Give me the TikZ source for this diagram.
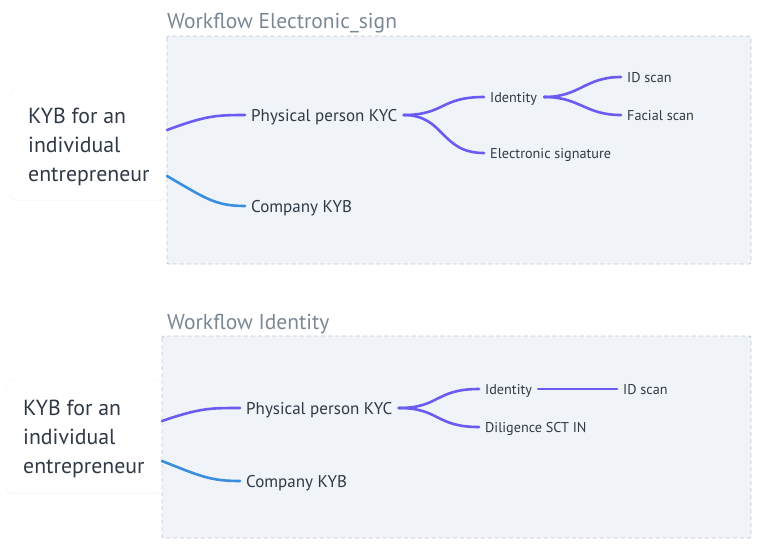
\documentclass[tikz,border=0pt]{standalone}
\usepackage{fontspec}
\setmainfont{PT Sans}
\usetikzlibrary{calc,shadows}
\definecolor{txt}{HTML}{2F3A46}
\definecolor{ttl}{HTML}{7A8896}
\definecolor{panel}{HTML}{F0F3F7}
\definecolor{panelborder}{HTML}{C3CBD4}
\definecolor{purp}{HTML}{6A5CF2}
\definecolor{blu}{HTML}{3A8EE0}
\tikzset{
  panelbox/.style={fill=panel, draw=panelborder, dashed, dash pattern=on 4pt off 3pt, line width=0.9pt, rounded corners=2pt},
  paneltitle/.style={anchor=base west, inner sep=0, text=ttl, font=\fontsize{21.5}{24}\selectfont},
  rootbox/.style={fill=white, draw=black!4, rounded corners=5pt, drop shadow={opacity=0.06, shadow xshift=0pt, shadow yshift=-1pt}},
  roottext/.style={anchor=west, inner sep=0, text=txt, align=left, font=\fontsize{21.8}{29}\selectfont},
  lvlone/.style={anchor=west, inner sep=0, text height=12pt, text depth=0pt, text=txt, font=\fontsize{17}{19}\selectfont},
  lvltwo/.style={anchor=west, inner sep=0, text height=10pt, text depth=0pt, text=txt, font=\fontsize{14.2}{16}\selectfont},
  pline/.style={draw=purp, line width=2.6pt, line cap=round},
  bline/.style={draw=blu, line width=2.6pt, line cap=round},
}
\begin{document}
\begin{tikzpicture}[x=1pt,y=-1pt]
\useasboundingbox (0,0) rectangle (758,544);
% ---------- top panel ----------
\node[paneltitle] (t1) at (167,28) {Workflow Electronic\_sign};
\path[panelbox] (167,36) rectangle (751,264);
\path[rootbox] (11,88) rectangle (166,200);
\node[roottext] (r1) at (28,147) {KYB for an\\individual\\entrepreneur};
\coordinate (r1a) at (167,130);
\coordinate (r1b) at (167,176);
\node[lvlone] (p1) at (251,115) {Physical person KYC};
\node[lvlone] (c1) at (251,206) {Company KYB};
\node[lvltwo] (i1) at (490,97) {Identity};
\node[lvltwo] (e1) at (490,153) {Electronic signature};
\node[lvltwo] (d1) at (627,77) {ID scan};
\node[lvltwo] (f1) at (627,115) {Facial scan};
\draw[pline] (r1a) .. controls (205,116) and (215,115) .. ([xshift=-6pt]p1.west);
\draw[bline] (r1b) .. controls (205,198) and (215,206) .. ([xshift=-6pt]c1.west);
\draw[pline] ([xshift=6pt]p1.east) .. controls (445,115) and (440,97) .. ([xshift=-6pt]i1.west);
\draw[pline] ([xshift=6pt]p1.east) .. controls (445,115) and (440,153) .. ([xshift=-6pt]e1.west);
\draw[pline] ([xshift=7pt]i1.east) .. controls (580,97) and (585,77) .. ([xshift=-6pt]d1.west);
\draw[pline] ([xshift=7pt]i1.east) .. controls (580,97) and (585,115) .. ([xshift=-6pt]f1.west);
% ---------- bottom panel ----------
\node[paneltitle] (t2) at (167,329) {Workflow Identity};
\path[panelbox] (162,336) rectangle (751,538);
\path[rootbox] (6,380) rectangle (161,493);
\node[roottext] (r2) at (23,439) {KYB for an\\individual\\entrepreneur};
\coordinate (r2a) at (162,421);
\coordinate (r2b) at (162,461);
\node[lvlone] (p2) at (246,408) {Physical person KYC};
\node[lvlone] (c2) at (246,481) {Company KYB};
\node[lvltwo] (i2) at (485,389) {Identity};
\node[lvltwo] (g2) at (485,427) {Diligence SCT IN};
\node[lvltwo] (d2) at (623,389) {ID scan};
\draw[pline] (r2a) .. controls (200,408) and (210,408) .. ([xshift=-6pt]p2.west);
\draw[bline] (r2b) .. controls (200,476) and (210,481) .. ([xshift=-6pt]c2.west);
\draw[pline] ([xshift=6pt]p2.east) .. controls (440,408) and (435,389) .. ([xshift=-6pt]i2.west);
\draw[pline] ([xshift=6pt]p2.east) .. controls (440,408) and (435,427) .. ([xshift=-6pt]g2.west);
\draw[pline] ([xshift=6pt]i2.east) -- ([xshift=-6pt]d2.west);
\end{tikzpicture}
\end{document}
